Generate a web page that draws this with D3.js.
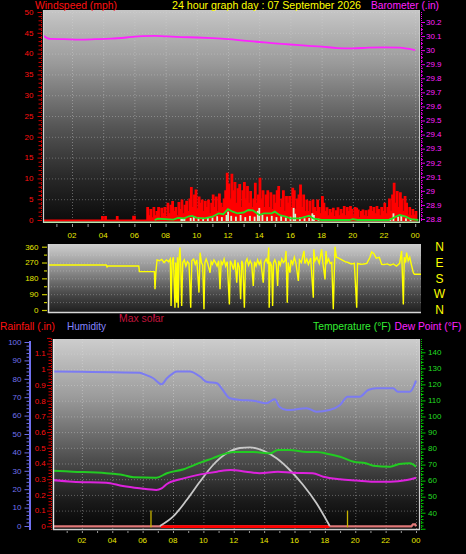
<!DOCTYPE html>
<html><head><meta charset="utf-8">
<script src="https://cdn.jsdelivr.net/npm/d3@7"></script>
<style>
body{margin:0;background:#000;}
svg{display:block;}
text{font-family:"Liberation Sans",Arial,sans-serif;}
</style>
</head><body>
<svg id="c" width="466" height="554"></svg>
<script>
// ---------------- DATA ----------------
const hourTicks = [2,4,6,8,10,12,14,16,18,20,22,24];
const hourLabels = ["02","04","06","08","10","12","14","16","18","20","22","00"];
const speedTicks = [0,5,10,15,20,25,30,35,40,45,50];
const baroTicks = [28.8,28.9,29.0,29.1,29.2,29.3,29.4,29.5,29.6,29.7,29.8,29.9,30.0,30.1,30.2];
const baroLabels = ["28.8","28.9","29","29.1","29.2","29.3","29.4","29.5","29.6","29.7","29.8","29.9","30","30.1","30.2"];
const dirTicks = [0,90,180,270,360];
const compass = ["N","W","S","E","N"];
const humTicks = [0,10,20,30,40,50,60,70,80,90,100];
const rainTicks = [0,0.1,0.2,0.3,0.4,0.5,0.6,0.7,0.8,0.9,1,1.1];
const rainLabels = ["0","0.1","0.2","0.3","0.4","0.5","0.6","0.7","0.8","0.9","1","1.1"];
const tempTicks = [40,50,60,70,80,90,100,110,120,130,140];

// wind gust (mph): early quiet part as [hour, mph] steps, then regular 0.1 h samples
const earlyGust = [[0,0],[3.9,0.8],[4.0,0],[4.1,0.8],[4.2,0],[4.85,0.8],[4.95,0],[5.9,0.9],[6.05,0],[6.8,0]];
const gustStart = 6.8, gustStep = 0.1;
const gustValues = [
3,1,2.5,0.5,3,1,
2,3,0.5,2.8,1.5,3,0.8,
4,1.5,3.5,4.4,2,3,1,4.2,
2.5,4.8,1.5,3.5,4.5,2,
5,7.8,3,6,7.2,2.5,5.5,4,
4.8,2,4.5,3,4.8,1.5,4,
6,3,5.5,2,6.2,4,3,5,
7,11.2,8.6,5,11,7,
9,4,7.5,8.5,3,7,9,5,
8,4,6.8,3,5,8.8,4,6,
10,5,7,3,6,
7,3,6.5,2.5,6,4,7,
8,3,5,7,2,5.6,4,
5.6,3,7.6,7,2.5,5,
6,8.4,3,6,2,
4.8,2,4.5,1.5,4.8,3,
2,4.8,3,1.5,5.6,4,2,
2.9,1,2.5,1.7,2.8,0.8,2.2,2.9,1,2.5,1.5,
3.2,1,3,2,3.2,2.5,1,3,2.8,
2.4,0.5,2,2.4,1,2.2,0.8,2.4,
3.2,2,3,1.5,3.2,2.5,1,
3,2,4,1.5,3,5,2,
6,8.8,4,6.8,3,6.5,5,2,5.6,
4,1.2,3,1,2.5,1.2,2,0.8];

// average wind speed (mph)
const avgWind = [[7.3,0],[7.5,0.3],[8.0,0.2],[8.5,0.1],[8.8,0.5],[9.2,0.4],[9.5,0.9],[9.7,1.0],[10.0,0.5],[10.5,0.4],[11.0,0.8],[11.4,1.6],[11.7,1.4],[12.0,2.6],[12.3,2.0],[12.6,1.6],[13.0,1.8],[13.3,2.4],[13.6,2.3],[14.0,1.2],[14.3,1.6],[14.8,1.6],[15.0,2.0],[15.3,1.2],[15.7,0.8],[16.0,0.4],[16.6,0.4],[17.2,1.0],[17.5,0.3],[18.0,0],[19.8,0],[20.0,0.2],[20.3,0],[22.3,0],[22.6,0.5],[23.0,1.2],[23.4,0.8],[23.7,0.2],[24.2,0]];

// wind speed samples (pale bars)
const windBars = [[9.0,0.3],[9.1,0.4],[9.2,0.3],[9.6,0.5],[9.8,0.8],[10.1,0.6],[10.4,0.5],[10.7,0.7],[11.0,0.6],[11.3,0.9],[11.6,0.7],[11.9,1.2],[12.0,2.0],[12.2,1.0],[12.5,0.8],[12.8,1.2],[13.1,0.7],[13.4,1.0],[13.7,0.8],[13.9,2.2],[14.0,2.9],[14.2,1.2],[14.5,0.8],[14.8,1.0],[15.1,0.7],[15.4,0.9],[15.7,0.6],[16.0,0.8],[16.2,2.9],[16.3,1.5],[16.6,0.6],[16.9,0.4],[17.2,0.5],[17.4,1.6],[17.5,1.2],[17.8,0.3],[18.1,0.2],[22.4,0.3],[22.6,1.6],[22.9,0.8],[23.1,1.2],[23.4,0.4],[23.7,0.3]];

// barometer (inHg)
const baro = [[0.15,30.105],[0.6,30.08],[1.5,30.078],[2.5,30.075],[3.5,30.078],[4.5,30.082],[5.5,30.09],[6.5,30.1],[7.3,30.102],[8.0,30.098],[9.0,30.093],[10.0,30.09],[11.0,30.085],[12.0,30.078],[13.0,30.068],[14.0,30.058],[15.0,30.048],[16.0,30.04],[17.0,30.032],[18.0,30.025],[19.0,30.015],[20.0,30.012],[21.0,30.018],[22.0,30.02],[23.0,30.018],[23.5,30.01],[24.0,30.0]];

// wind direction (degrees)
const windDir = [[0.5,256],[4.2,256],[4.25,245],[4.3,250],[6.28,250],[6.32,218],[7.28,218],[7.32,118],[7.38,218],[7.45,285],[7.6,280],[7.75,288],[7.9,270],[8.05,285],[8.2,275],[8.3,290],[8.35,23],[8.42,280],[8.5,300],[8.6,13],[8.65,270],[8.71,42],[8.76,300],[8.81,13],[8.86,280],[8.92,355],[8.97,260],[9.03,23],[9.1,270],[9.2,285],[9.3,250],[9.4,275],[9.5,265],[9.61,13],[9.68,280],[9.8,290],[9.9,260],[10.0,285],[10.14,99],[10.21,326],[10.3,270],[10.38,255],[10.46,4],[10.52,270],[10.6,290],[10.7,265],[10.85,212],[10.92,275],[11.0,260],[11.1,285],[11.2,270],[11.3,250],[11.4,280],[11.49,118],[11.56,275],[11.65,260],[11.75,290],[11.85,250],[11.95,275],[12.09,32],[12.15,280],[12.25,260],[12.35,230],[12.45,285],[12.56,155],[12.63,270],[12.72,245],[12.81,61],[12.88,280],[12.95,260],[13.05,13],[13.12,270],[13.22,290],[13.32,255],[13.42,280],[13.52,260],[13.62,137],[13.7,275],[13.8,250],[13.9,285],[14.0,260],[14.1,280],[14.26,155],[14.33,270],[14.45,290],[14.55,265],[14.61,355],[14.64,13],[14.7,275],[14.8,250],[14.86,23],[14.92,270],[15.0,285],[15.1,260],[15.18,137],[15.25,280],[15.35,255],[15.45,290],[15.55,270],[15.65,280],[15.72,336],[15.8,42],[15.86,270],[15.97,212],[16.05,285],[16.15,260],[16.25,300],[16.35,270],[16.51,165],[16.58,285],[16.7,270],[16.87,336],[16.93,265],[17.05,290],[17.15,260],[17.3,295],[17.47,70],[17.5,345],[17.58,280],[17.7,300],[17.85,265],[18.0,345],[18.08,270],[18.22,174],[18.28,336],[18.35,270],[18.45,290],[18.55,265],[18.65,270],[18.75,4],[18.86,360],[18.95,300],[19.1,295],[19.3,285],[19.5,275],[19.7,270],[19.9,262],[20.1,265],[20.25,13],[20.3,265],[20.5,260],[20.7,262],[20.9,265],[21.1,300],[21.21,330],[21.35,320],[21.5,295],[21.7,300],[21.85,260],[22.0,258],[22.2,262],[22.4,255],[22.6,262],[22.8,250],[23.0,265],[23.13,336],[23.24,32],[23.3,300],[23.38,270],[23.45,326],[23.55,280],[23.65,300],[23.75,260],[23.88,212],[23.95,203],[24.4,203]];

// bottom panel
const humidity = [[0,84],[5.8,83.3],[6.05,82.6],[6.7,80.3],[7.25,77],[7.6,80.3],[8.0,83],[8.25,84],[9.1,84],[9.8,81.1],[10.2,78.4],[10.9,77.6],[11.2,74.8],[11.75,69.4],[12.4,68.5],[13.3,68.1],[14.15,66.7],[14.7,68.9],[15.0,64.8],[15.5,63],[16.8,64],[17.45,62.1],[18.3,63],[19.0,65.8],[19.5,70.3],[20.3,70.3],[20.85,73.9],[21.4,74.8],[22.5,74.8],[22.8,73],[23.6,73],[24,79]];
const temperature = [[0,66.2],[1.4,65.6],[3.6,64.6],[4.7,63.5],[5.4,62.1],[6.9,61.8],[7.6,64.6],[8.7,67.1],[9.8,71.2],[10.6,73.9],[11.5,77],[12,77.8],[13.3,77.8],[14.4,77],[14.9,79.1],[15.7,79.1],[16.8,77.8],[17.45,77.8],[18.3,76.4],[19,74.9],[19.9,71.8],[20.7,70.8],[21.2,69.3],[22.3,68.7],[22.9,70.4],[23.6,70.8],[24,68.7]];
const dewPoint = [[0,60.4],[1.4,59.3],[3.6,58.7],[4.7,56.6],[5.8,55.2],[6.9,54.2],[7.25,55.2],[7.6,57.9],[8.7,61.4],[9.8,63.9],[10.9,65.6],[11.8,66.6],[12.8,65.6],[13.7,64.6],[14.9,65.6],[15.9,64.9],[17.2,64.6],[17.9,62.4],[19,60.8],[20.1,60],[21.2,59.3],[22.3,59.3],[23.4,60.4],[24,61.8]];
const solarMax = [[7.14,0],[8.0,93],[8.9,260],[9.77,443],[10.64,610],[11.53,727],[12.4,780],[13.06,787],[13.93,753],[14.82,677],[15.69,560],[16.57,410],[17.45,227],[18.32,0]];
const solarActual = [[7.2,0],[18.3,0]];
const rainfall = [[0,0],[23.7,0],[23.8,0.012],[23.95,0.012],[24,0]];
const sunTimes = [6.55,19.49];

// ---------------- DRAW ----------------
const svg = d3.select("#c");
const defs = svg.append("defs");

function grad(id, stops){
  const g = defs.append("linearGradient").attr("id",id).attr("x1",0).attr("y1",0).attr("x2",0).attr("y2",1);
  stops.forEach(s=>g.append("stop").attr("offset",s[0]).attr("stop-color",s[1]));
}
grad("gTop",[[0,"#c6c6c6"],[0.25,"#9a9a9a"],[0.55,"#555"],[0.8,"#262626"],[1,"#0a0a0a"]]);
grad("gMid",[[0,"#cfcfcf"],[0.4,"#8a8a8a"],[0.75,"#444"],[1,"#1c1c1c"]]);
grad("gBot",[[0,"#cdcdcd"],[0.3,"#9c9c9c"],[0.6,"#555"],[0.85,"#1a1a1a"],[1,"#050505"]]);

function clip(id,x,y,w,h){
  defs.append("clipPath").attr("id",id).append("rect").attr("x",x).attr("y",y).attr("width",w).attr("height",h);
}

// ======= TOP PANEL =======
const T = {x0:43, x1:420, y0:10, y1:223};
const xTop = d3.scaleLinear().domain([0,24]).range([40.8,415.2]);
const ySpeed = d3.scaleLinear().domain([0,50]).range([220,12]);
const yBaro = d3.scaleLinear().domain([28.8,30.2]).range([219,22]);
clip("cTop",T.x0,T.y0,T.x1-T.x0,T.y1-T.y0);

svg.append("rect").attr("x",T.x0).attr("y",T.y0).attr("width",T.x1-T.x0).attr("height",T.y1-T.y0).attr("fill","url(#gTop)");
const gTop = svg.append("g").attr("clip-path","url(#cTop)");
// grid
gTop.selectAll("line.hg").data(speedTicks.slice(1)).join("line")
  .attr("x1",T.x0).attr("x2",T.x1).attr("y1",d=>ySpeed(d)+0.5).attr("y2",d=>ySpeed(d)+0.5)
  .attr("stroke","#d8d8d8").attr("stroke-opacity",0.35).attr("stroke-dasharray","1,2");
gTop.selectAll("line.vg").data(hourTicks).join("line")
  .attr("x1",d=>xTop(d)+0.5).attr("x2",d=>xTop(d)+0.5).attr("y1",T.y0).attr("y2",T.y1)
  .attr("stroke","#d8d8d8").attr("stroke-opacity",0.4).attr("stroke-dasharray","1,2");

// gust area
const gustData = earlyGust.concat(gustValues.map((v,i)=>[gustStart+i*gustStep, v]));
gTop.append("path").datum(gustData)
  .attr("d", d3.area().curve(d3.curveStepAfter).x(d=>xTop(d[0])).y0(ySpeed(0)+1).y1(d=>ySpeed(d[1])))
  .attr("fill","#ff0000").attr("stroke","#ff0000").attr("stroke-width",1.2);
// pale wind bars
gTop.selectAll("rect.wb").data(windBars).join("rect")
  .attr("x",d=>xTop(d[0])-0.8).attr("width",1.8)
  .attr("y",d=>ySpeed(d[1])).attr("height",d=>ySpeed(0)+1-ySpeed(d[1]))
  .attr("fill","#d4f2d0");
// avg wind line
gTop.append("path").datum(avgWind)
  .attr("d", d3.line().x(d=>xTop(d[0])).y(d=>ySpeed(d[1])))
  .attr("fill","none").attr("stroke","#22e022").attr("stroke-width",1.8);
// baseline pale green
gTop.append("line").attr("x1",T.x0).attr("x2",T.x1).attr("y1",222.2).attr("y2",222.2)
  .attr("stroke","#b8e8b0").attr("stroke-width",1.6);
// barometer
gTop.append("path").datum(baro)
  .attr("d", d3.line().curve(d3.curveMonotoneX).x(d=>xTop(d[0])).y(d=>yBaro(d[1])))
  .attr("fill","none").attr("stroke","#ff22ff").attr("stroke-width",1.8);
// frame
svg.append("line").attr("x1",T.x0+0.5).attr("x2",T.x0+0.5).attr("y1",T.y0).attr("y2",T.y1).attr("stroke","#d0d0d0").attr("stroke-width",1.2);
svg.append("line").attr("x1",T.x1-0.5).attr("x2",T.x1-0.5).attr("y1",T.y0).attr("y2",T.y1).attr("stroke","#c8c8c8").attr("stroke-width",1);

// left axis (speed)
svg.append("line").attr("x1",41.5).attr("x2",41.5).attr("y1",12).attr("y2",222).attr("stroke","#e00000").attr("stroke-dasharray","1,1");
svg.selectAll("line.st").data(d3.range(0,51,1)).join("line")
  .attr("x1",d=>d%5===0?37.5:38.5).attr("x2",42).attr("y1",d=>ySpeed(d)+0.5).attr("y2",d=>ySpeed(d)+0.5)
  .attr("stroke","#d00000").attr("stroke-width",1);
svg.selectAll("text.sl").data(speedTicks).join("text")
  .attr("x",33.5).attr("y",d=>ySpeed(d)).attr("dy","0.35em").attr("text-anchor","end")
  .attr("font-size",8).attr("fill","#ff1010").text(d=>d);
// right axis (baro)
svg.append("line").attr("x1",421.5).attr("x2",421.5).attr("y1",12).attr("y2",222).attr("stroke","#ee00ee").attr("stroke-dasharray","1,1");
svg.selectAll("line.bt").data(d3.range(0,57,1).map(i=>28.8+i*0.025)).join("line")
  .attr("x1",421).attr("x2",(d,i)=>i%4===0?425:423).attr("y1",d=>yBaro(d)+0.5).attr("y2",d=>yBaro(d)+0.5)
  .attr("stroke","#e000e0").attr("stroke-width",1);
svg.selectAll("text.bl").data(baroTicks).join("text")
  .attr("x",426).attr("y",d=>yBaro(d)).attr("dy","0.35em")
  .attr("font-size",8).attr("fill","#ff20ff").text((d,i)=>baroLabels[i]);
// x minor ticks + labels
svg.selectAll("line.xt").data(d3.range(1,25)).join("line")
  .attr("x1",d=>xTop(d)+0.5).attr("x2",d=>xTop(d)+0.5).attr("y1",224).attr("y2",227)
  .attr("stroke","#9a9a9a");
svg.selectAll("text.xl").data(hourTicks).join("text")
  .attr("x",d=>xTop(d)).attr("y",237.5).attr("text-anchor","middle")
  .attr("font-size",8).attr("fill","#e8e800").text((d,i)=>hourLabels[i]);
// headers
svg.append("text").attr("x",35).attr("y",9).attr("font-size",11).attr("fill","#ff1010")
  .attr("textLength",82).attr("lengthAdjust","spacingAndGlyphs").text("Windspeed (mph)");
svg.append("text").attr("x",172).attr("y",9).attr("font-size",11).attr("fill","#ffff00")
  .attr("textLength",189).attr("lengthAdjust","spacingAndGlyphs").text("24 hour graph day : 07 September 2026");
svg.append("text").attr("x",371).attr("y",9).attr("font-size",11).attr("fill","#ff22ff")
  .attr("textLength",68).attr("lengthAdjust","spacingAndGlyphs").text("Barometer (.in)");

// ======= MIDDLE PANEL =======
const M = {x0:48, x1:421, y0:244, y1:313};
const yDir = d3.scaleLinear().domain([0,360]).range([310,246.7]);
clip("cMid",M.x0,M.y0,M.x1-M.x0,M.y1-M.y0);
svg.append("rect").attr("x",M.x0).attr("y",M.y0).attr("width",M.x1-M.x0).attr("height",M.y1-M.y0).attr("fill","url(#gMid)");
const gMid = svg.append("g").attr("clip-path","url(#cMid)");
gMid.selectAll("line.dg").data(d3.range(45,360,45)).join("line")
  .attr("x1",M.x0).attr("x2",M.x1).attr("y1",d=>yDir(d)+0.5).attr("y2",d=>yDir(d)+0.5)
  .attr("stroke","#e0e0e0").attr("stroke-opacity",0.3).attr("stroke-dasharray","1,2");
gMid.append("path").datum(windDir)
  .attr("d", d3.line().x(d=>xTop(d[0])).y(d=>yDir(d[1])))
  .attr("fill","none").attr("stroke","#ffff00").attr("stroke-width",1.4);
svg.append("line").attr("x1",M.x0+0.5).attr("x2",M.x0+0.5).attr("y1",M.y0).attr("y2",M.y1).attr("stroke","#e0e0e0").attr("stroke-width",1.5);
svg.append("line").attr("x1",M.x0).attr("x2",M.x1).attr("y1",M.y1-0.5).attr("y2",M.y1-0.5).attr("stroke","#d8d8d8").attr("stroke-width",1.5);
svg.selectAll("line.dt").data(d3.range(0,361,45)).join("line")
  .attr("x1",d=>d%90===0?42:44).attr("x2",47).attr("y1",d=>yDir(d)+0.5).attr("y2",d=>yDir(d)+0.5)
  .attr("stroke","#c8c800").attr("stroke-width",1.2);
svg.selectAll("text.dl").data(dirTicks).join("text")
  .attr("x",38.5).attr("y",d=>yDir(d)).attr("dy","0.35em").attr("text-anchor","end")
  .attr("font-size",8).attr("fill","#e6e600").text(d=>d);
svg.selectAll("text.cp").data(dirTicks).join("text")
  .attr("x",439.5).attr("y",d=>yDir(d)).attr("dy","0.36em").attr("text-anchor","middle")
  .attr("font-size",12).attr("fill","#ffff00").text((d,i)=>compass[i]);
// small red marks under middle panel
svg.selectAll("line.rm").data([5.1,7.3]).join("line")
  .attr("x1",d=>xTop(d)).attr("x2",d=>xTop(d)).attr("y1",314).attr("y2",318)
  .attr("stroke","#c01040").attr("stroke-width",1);

// ======= BOTTOM PANEL =======
const B = {x0:53, x1:420, y0:339, y1:530};
const xBot = d3.scaleLinear().domain([0,24]).range([51.5,416]);
const yHum = d3.scaleLinear().domain([0,100]).range([526,342]);
const yRain = d3.scaleLinear().domain([0,1]).range([526.3,369.3]);
const yTemp = d3.scaleLinear().domain([40,140]).range([512.7,352.3]);
const ySolar = d3.scaleLinear().domain([0,1000]).range([526,426]);
clip("cBot",B.x0,B.y0,B.x1-B.x0,B.y1-B.y0);
svg.append("rect").attr("x",B.x0).attr("y",B.y0).attr("width",B.x1-B.x0).attr("height",B.y1-B.y0).attr("fill","url(#gBot)");
const gBot = svg.append("g").attr("clip-path","url(#cBot)");
gBot.selectAll("line.rg").data(rainTicks.slice(1).concat([1.2])).join("line")
  .attr("x1",B.x0).attr("x2",B.x1).attr("y1",d=>yRain(d)+0.5).attr("y2",d=>yRain(d)+0.5)
  .attr("stroke","#e0e0e0").attr("stroke-opacity",0.35).attr("stroke-dasharray","1,2");
gBot.selectAll("line.vg2").data(hourTicks).join("line")
  .attr("x1",d=>xBot(d)+0.5).attr("x2",d=>xBot(d)+0.5).attr("y1",B.y0).attr("y2",B.y1)
  .attr("stroke","#e0e0e0").attr("stroke-opacity",0.4).attr("stroke-dasharray","1,2");
const lineB = (ys)=>d3.line().curve(d3.curveMonotoneX).x(d=>xBot(d[0])).y(d=>ys(d[1]));
// rain baseline
gBot.append("path").datum(rainfall).attr("d",d3.line().x(d=>xBot(d[0])).y(d=>yRain(d[1])))
  .attr("fill","none").attr("stroke","#e07878").attr("stroke-width",2.2);
gBot.append("path").datum(solarActual).attr("d",d3.line().x(d=>xBot(d[0])).y(d=>ySolar(d[1])+0.6))
  .attr("fill","none").attr("stroke","#ff0000").attr("stroke-width",2.6);
// sunrise / sunset markers
gBot.selectAll("line.sun").data(sunTimes).join("line")
  .attr("x1",d=>xBot(d)).attr("x2",d=>xBot(d)).attr("y1",yRain(0.1)).attr("y2",yRain(0)+1)
  .attr("stroke","#c8b400").attr("stroke-width",1.3);
gBot.append("path").datum(solarMax).attr("d",lineB(ySolar))
  .attr("fill","none").attr("stroke","#c8c8c8").attr("stroke-width",1.8);
gBot.append("path").datum(humidity).attr("d",lineB(yHum))
  .attr("fill","none").attr("stroke","#7b7bf2").attr("stroke-width",2);
gBot.append("path").datum(temperature).attr("d",lineB(yTemp))
  .attr("fill","none").attr("stroke","#22cc22").attr("stroke-width",2);
gBot.append("path").datum(dewPoint).attr("d",lineB(yTemp))
  .attr("fill","none").attr("stroke","#dd22dd").attr("stroke-width",2);
// frame
svg.append("line").attr("x1",B.x0+0.5).attr("x2",B.x0+0.5).attr("y1",B.y0).attr("y2",B.y1).attr("stroke","#e8e8e8").attr("stroke-width",1.4);
svg.append("line").attr("x1",B.x0).attr("x2",B.x1).attr("y1",B.y1-0.5).attr("y2",B.y1-0.5).attr("stroke","#cfcfcf").attr("stroke-width",1.4);
svg.append("line").attr("x1",B.x1-0.5).attr("x2",B.x1-0.5).attr("y1",B.y0).attr("y2",B.y1).attr("stroke","#cfcfcf").attr("stroke-width",1.2);
// humidity axis
svg.append("line").attr("x1",30).attr("x2",30).attr("y1",341).attr("y2",530).attr("stroke","#7070f0").attr("stroke-width",2);
svg.selectAll("line.ht").data(d3.range(0,101,2)).join("line")
  .attr("x1",d=>d%10===0?24.5:26.5).attr("x2",30).attr("y1",d=>yHum(d)+0.5).attr("y2",d=>yHum(d)+0.5)
  .attr("stroke","#6c6ce8").attr("stroke-width",1);
svg.selectAll("text.hl").data(humTicks).join("text")
  .attr("x",21.5).attr("y",d=>yHum(d)).attr("dy","0.35em").attr("text-anchor","end")
  .attr("font-size",8).attr("fill","#7272f0").text(d=>d);
// rain axis
svg.append("line").attr("x1",51.5).attr("x2",51.5).attr("y1",339).attr("y2",530).attr("stroke","#e00000").attr("stroke-dasharray","1,1");
svg.selectAll("line.rt").data(d3.range(0,61,1).map(i=>i*0.02)).join("line")
  .attr("x1",(d,i)=>i%5===0?47:48.5).attr("x2",51.5).attr("y1",d=>yRain(d)+0.5).attr("y2",d=>yRain(d)+0.5)
  .attr("stroke","#d00000").attr("stroke-width",1);
svg.selectAll("text.rl").data(rainTicks).join("text")
  .attr("x",45.8).attr("y",d=>yRain(d)).attr("dy","0.35em").attr("text-anchor","end")
  .attr("font-size",8).attr("fill","#ff1010").text((d,i)=>rainLabels[i]);
// temperature axis
svg.append("line").attr("x1",421.5).attr("x2",421.5).attr("y1",339).attr("y2",530).attr("stroke","#00c000").attr("stroke-dasharray","1,1");
svg.selectAll("line.tt").data(d3.range(30,143,2)).join("line")
  .attr("x1",421).attr("x2",d=>d%10===0?425.5:423.5).attr("y1",d=>yTemp(d)+0.5).attr("y2",d=>yTemp(d)+0.5)
  .attr("stroke","#00c800").attr("stroke-width",1);
svg.selectAll("text.tl").data(tempTicks).join("text")
  .attr("x",428).attr("y",d=>yTemp(d)).attr("dy","0.35em")
  .attr("font-size",8).attr("fill","#22dd22").text(d=>d);
// x labels
svg.selectAll("line.xt2").data(d3.range(1,25)).join("line")
  .attr("x1",d=>xBot(d)+0.5).attr("x2",d=>xBot(d)+0.5).attr("y1",531).attr("y2",533)
  .attr("stroke","#9a9a9a");
svg.selectAll("text.xl2").data(hourTicks).join("text")
  .attr("x",d=>xBot(d)).attr("y",542.5).attr("text-anchor","middle")
  .attr("font-size",8).attr("fill","#e8e800").text((d,i)=>hourLabels[i]);
// legends
svg.append("text").attr("x",0).attr("y",329.5).attr("font-size",10.5).attr("fill","#ff1010")
  .attr("textLength",55).attr("lengthAdjust","spacingAndGlyphs").text("Rainfall (.in)");
svg.append("text").attr("x",67).attr("y",329.5).attr("font-size",10.5).attr("fill","#8585ff")
  .attr("textLength",39).attr("lengthAdjust","spacingAndGlyphs").text("Humidity");
svg.append("text").attr("x",119).attr("y",322.3).attr("font-size",10.5).attr("fill","#c0143c")
  .attr("textLength",45).attr("lengthAdjust","spacingAndGlyphs").text("Max solar");
svg.append("text").attr("x",313).attr("y",329.5).attr("font-size",10.5).attr("fill","#33ee33")
  .attr("textLength",78).attr("lengthAdjust","spacingAndGlyphs").text("Temperature (°F)");
svg.append("text").attr("x",394.5).attr("y",329.5).attr("font-size",10.5).attr("fill","#ff22ff")
  .attr("textLength",67).attr("lengthAdjust","spacingAndGlyphs").text("Dew Point (°F)");
</script>
</body></html>
